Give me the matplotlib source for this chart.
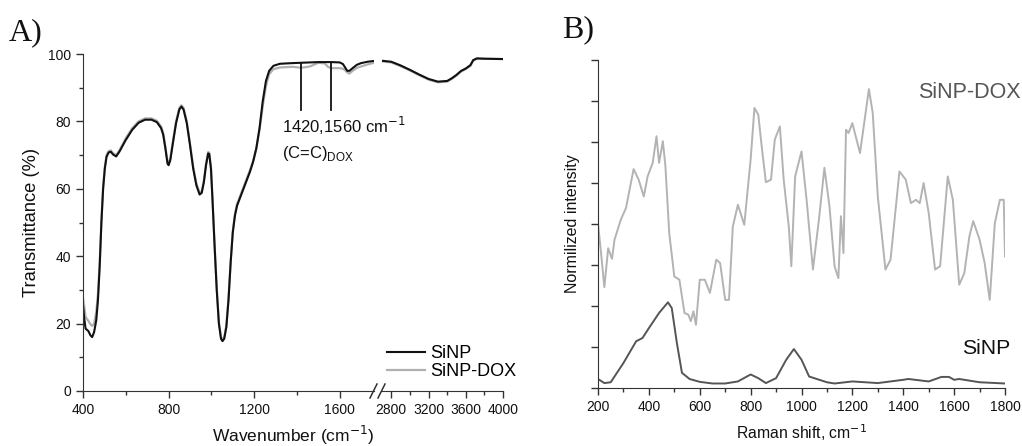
import matplotlib
matplotlib.use("Agg")
import matplotlib.pyplot as plt
from matplotlib.lines import Line2D

plt.rcParams['font.family'] = ['Liberation Sans', 'DejaVu Sans']

# ---------------- FTIR data (panel A) ----------------
ftir_x_low = [400, 405, 412, 425, 435, 443, 452, 462, 470, 478, 486, 494, 502, 510, 520, 530,
              540, 555, 570, 600, 630, 660, 690, 720, 745, 765, 775, 785, 795, 800, 808, 820,
              835, 850, 860, 870, 885, 900, 915, 930, 945, 955, 965, 975, 985, 990, 998, 1005,
              1015, 1025, 1035, 1045, 1052, 1060, 1070, 1080, 1090, 1100, 1110, 1120, 1135,
              1150, 1165, 1180, 1195, 1210, 1225, 1240, 1255, 1270, 1290, 1320, 1380, 1420,
              1460, 1500, 1530, 1545, 1560, 1600, 1615, 1625, 1635, 1645, 1660, 1680, 1700,
              1730, 1755]
sinp_low = [25.5, 22, 18.5, 17.8, 16.5, 16.0, 17.5, 21, 27, 37, 50, 60, 66, 69.5, 70.8, 71,
            70.2, 69.6, 71, 74.5, 77.5, 79.6, 80.5, 80.5, 79.8, 78, 76, 72, 67.5, 67.0, 68.5,
            73.5, 79.5, 83.5, 84.4, 83.5, 79.5, 73, 66, 61, 58.3, 58.8, 62, 67, 70.5, 70.3, 66,
            57, 43, 30, 20, 15.5, 14.8, 15.5, 19, 27, 38, 47, 52, 55, 57.5, 60, 62.5, 65, 68,
            72, 78, 86, 92, 95, 96.5, 97.1, 97.3, 97.4, 97.5, 97.6, 97.6, 97.6, 97.6, 97.5, 97,
            96, 95, 95, 95.8, 96.8, 97.3, 97.7, 97.9]
dox_low = [27.5, 25.5, 22, 20.8, 19.8, 19.3, 20, 23.5, 29, 38, 50.5, 60.5, 66.5, 70, 71.2,
           71.4, 70.6, 70.0, 71.4, 75.0, 78.0, 80.0, 80.9, 80.9, 80.2, 78.5, 76.5, 72.5, 68.0,
           67.5, 69.0, 74.0, 80.0, 84.0, 84.8, 84.0, 80.0, 73.5, 66.5, 61.5, 58.8, 59.3, 62.5,
           67.5, 70.9, 70.7, 66.5, 57.5, 43.5, 30.5, 20.5, 16.0, 15.3, 16.0, 19.5, 27.5, 38.5,
           47.5, 52.5, 55.5, 58.0, 60.5, 63.0, 65.5, 68.3, 72, 77.5, 84.5, 90.5, 94, 95.5, 96,
           96.2, 95.9, 96.3, 97.4, 97.2, 96.2, 95.8, 95.8, 95.6, 95.2, 94.5, 94.2, 95, 95.9,
           96.3, 96.9, 97.3]

ftir_x_high = [2700, 2800, 2900, 3000, 3100, 3200, 3300, 3400, 3450, 3500, 3550, 3600, 3650,
               3680, 3720, 3800, 4000]
sinp_high = [98.0, 97.7, 96.6, 95.3, 93.9, 92.6, 91.8, 92.0, 92.8, 93.8, 95.0, 95.7, 96.7,
             98.2, 98.7, 98.6, 98.5]
dox_high = [97.8, 97.5, 96.4, 95.1, 93.7, 92.4, 91.6, 91.8, 92.6, 93.6, 94.8, 95.5, 96.5,
            98.0, 98.6, 98.6, 98.5]

ftir_labels = ["SiNP", "SiNP-DOX"]
peak_positions = [1420, 1560]

# ---------------- Raman data (panel B) ----------------
raman_sinp_x = [200, 225, 250, 300, 350, 375, 400, 440, 475, 490, 510, 530, 560, 600, 650, 700,
                750, 800, 830, 860, 900, 940, 970, 1000, 1030, 1070, 1100, 1130, 1200, 1300,
                1400, 1420, 1500, 1550, 1580, 1600, 1620, 1700, 1800]
raman_sinp = [0.22, 0.12, 0.14, 0.61, 1.14, 1.22, 1.46, 1.83, 2.09, 1.95, 1.10, 0.37, 0.22, 0.15,
              0.11, 0.11, 0.16, 0.33, 0.24, 0.12, 0.24, 0.69, 0.95, 0.69, 0.28, 0.20, 0.14, 0.11,
              0.16, 0.12, 0.20, 0.22, 0.16, 0.27, 0.27, 0.20, 0.22, 0.14, 0.11]

raman_dox_x = [200, 212, 225, 240, 255, 265, 290, 310, 340, 360, 380, 395, 415, 430, 440, 455,
               465, 480, 500, 520, 540, 555, 565, 575, 585, 600, 620, 640, 665, 680, 700, 715,
               730, 750, 775, 800, 815, 830, 845, 860, 880, 895, 915, 930, 950, 960, 975, 1000,
               1020, 1045, 1070, 1090, 1110, 1130, 1145, 1155, 1165, 1175, 1185, 1200, 1230,
               1265, 1280, 1300, 1330, 1350, 1385, 1410, 1430, 1450, 1465, 1480, 1500, 1525,
               1545, 1575, 1595, 1620, 1640, 1660, 1675, 1700, 1720, 1740, 1760, 1780, 1795, 1800]
raman_dox = [4.01, 3.29, 2.46, 3.41, 3.15, 3.62, 4.11, 4.39, 5.34, 5.08, 4.67, 5.16, 5.49, 6.14,
             5.49, 6.02, 5.41, 3.78, 2.72, 2.64, 1.83, 1.79, 1.63, 1.87, 1.54, 2.64, 2.64, 2.32,
             3.13, 3.05, 2.15, 2.15, 3.94, 4.47, 3.98, 5.57, 6.83, 6.67, 5.81, 5.02, 5.08, 6.06,
             6.38, 5.08, 3.94, 2.97, 5.16, 5.77, 4.59, 2.89, 4.19, 5.37, 4.43, 2.97, 2.68, 4.19,
             3.29, 6.30, 6.22, 6.46, 5.73, 7.29, 6.71, 4.67, 2.89, 3.13, 5.28, 5.08, 4.51, 4.59,
             4.51, 5.00, 4.27, 2.89, 2.97, 5.16, 4.59, 2.52, 2.80, 3.70, 4.07, 3.62, 3.05, 2.15,
             4.02, 4.59, 4.59, 3.21]

W, H = 1022, 446
fig = plt.figure(figsize=(W / 100, H / 100), dpi=100)


def rect(x0, y_top, x1, y_bot):
    return [x0 / W, 1 - y_bot / H, (x1 - x0) / W, (y_bot - y_top) / H]


spine_col = '#333333'
tick_kw = dict(direction='out', colors=spine_col, labelcolor='#111111', labelsize=10, width=1)

# ---- Panel A: broken x axis made of two axes
axA1 = fig.add_axes(rect(83, 54, 374, 391))
axA2 = fig.add_axes(rect(382, 54, 503, 391))
for ax in (axA1, axA2):
    ax.set_ylim(0, 100)
    ax.patch.set_visible(False)
    ax.spines['top'].set_visible(False)
    ax.spines['right'].set_visible(False)
    ax.spines['left'].set_color(spine_col)
    ax.spines['bottom'].set_color(spine_col)
    ax.tick_params(which='major', length=5, **tick_kw)
    ax.tick_params(which='minor', length=3, direction='out', colors=spine_col, width=1)

axA1.set_xlim(400, 1760)
axA1.set_xticks([400, 800, 1200, 1600])
axA1.set_xticks([600, 1000, 1400], minor=True)
axA1.set_yticks([0, 20, 40, 60, 80, 100])
axA1.set_yticks([10, 30, 50, 70, 90], minor=True)

axA2.set_xlim(2700, 4000)
axA2.set_xticks([2800, 3200, 3600, 4000])
axA2.set_xticks([3000, 3400, 3800], minor=True)
axA2.spines['left'].set_visible(False)
axA2.set_yticks([])
axA2.tick_params(axis='y', which='both', left=False, labelleft=False)

l1, = axA1.plot(ftir_x_low, dox_low, color='#b0b0b0', lw=1.6)
l0, = axA1.plot(ftir_x_low, sinp_low, color='#111111', lw=1.5)
axA2.plot(ftir_x_high, dox_high, color='#b0b0b0', lw=1.6)
axA2.plot(ftir_x_high, sinp_high, color='#111111', lw=1.5)

for p in peak_positions:
    axA1.plot([p, p], [83.4, 97.4], color='#111111', lw=1.3)
axA1.text(1329, 76.6, "1420,1560 cm$^{-1}$", fontsize=12, color='#111111', ha='left',
          va='baseline', clip_on=False, zorder=10)
axA1.text(1329, 69.1, "(C=C)$_{\\mathregular{DOX}}$", fontsize=12, color='#111111', ha='left',
          va='baseline', clip_on=False, zorder=10)

axA1.set_ylabel("Transmittance (%)", fontsize=13.2, color='#111111', labelpad=6)
fig.text(293 / W, 1 - 435 / H, "Wavenumber (cm$^{-1}$)", fontsize=12.5, color='#111111',
         ha='center', va='center')

# break marks
for xs in ((370, 377), (378, 385)):
    fig.add_artist(Line2D([xs[0] / W, xs[1] / W], [1 - 398 / H, 1 - 384 / H],
                          color=spine_col, lw=1.1, transform=fig.transFigure))

fig.legend([l0, l1], ftir_labels, loc='upper left', bbox_to_anchor=(387 / W, 1 - 345 / H),
           frameon=False, fontsize=13, handlelength=2.1, handletextpad=0.3,
           borderaxespad=0, borderpad=0, labelspacing=0.05)

fig.text(9 / W, 1 - 33 / H, "A)", fontsize=23, family=['Liberation Serif', 'DejaVu Serif'],
         ha='left', va='center', color='#111111')

# ---- Panel B
axB = fig.add_axes(rect(598, 60, 1005, 388))
axB.set_xlim(200, 1800)
axB.set_ylim(0, 8)
axB.spines['top'].set_visible(False)
axB.spines['right'].set_visible(False)
axB.spines['left'].set_color(spine_col)
axB.spines['bottom'].set_color(spine_col)
axB.set_xticks(list(range(200, 1801, 200)))
axB.set_xticks(list(range(300, 1800, 200)), minor=True)
axB.set_yticks(list(range(0, 9)))
axB.tick_params(which='major', length=5, **tick_kw)
axB.tick_params(which='minor', length=3, direction='out', colors=spine_col, width=1)
axB.tick_params(axis='y', labelleft=False)

axB.plot(raman_dox_x, raman_dox, color='#b3b3b3', lw=1.4)
axB.plot(raman_sinp_x, raman_sinp, color='#555555', lw=1.4)

axB.set_ylabel("Normilized intensity", fontsize=11.5, color='#111111', labelpad=8)
axB.set_xlabel("Raman shift, cm$^{-1}$", fontsize=11.3, color='#111111', labelpad=6)

fig.text(1021 / W, 1 - 92 / H, "SiNP-DOX", fontsize=15.5, color='#555555', ha='right', va='center')
fig.text(1010 / W, 1 - 349 / H, "SiNP", fontsize=15.3, color='#111111', ha='right', va='center')

fig.text(562 / W, 1 - 30 / H, "B)", fontsize=23, family=['Liberation Serif', 'DejaVu Serif'],
         ha='left', va='center', color='#111111')

fig.savefig("out.png", dpi=100)
